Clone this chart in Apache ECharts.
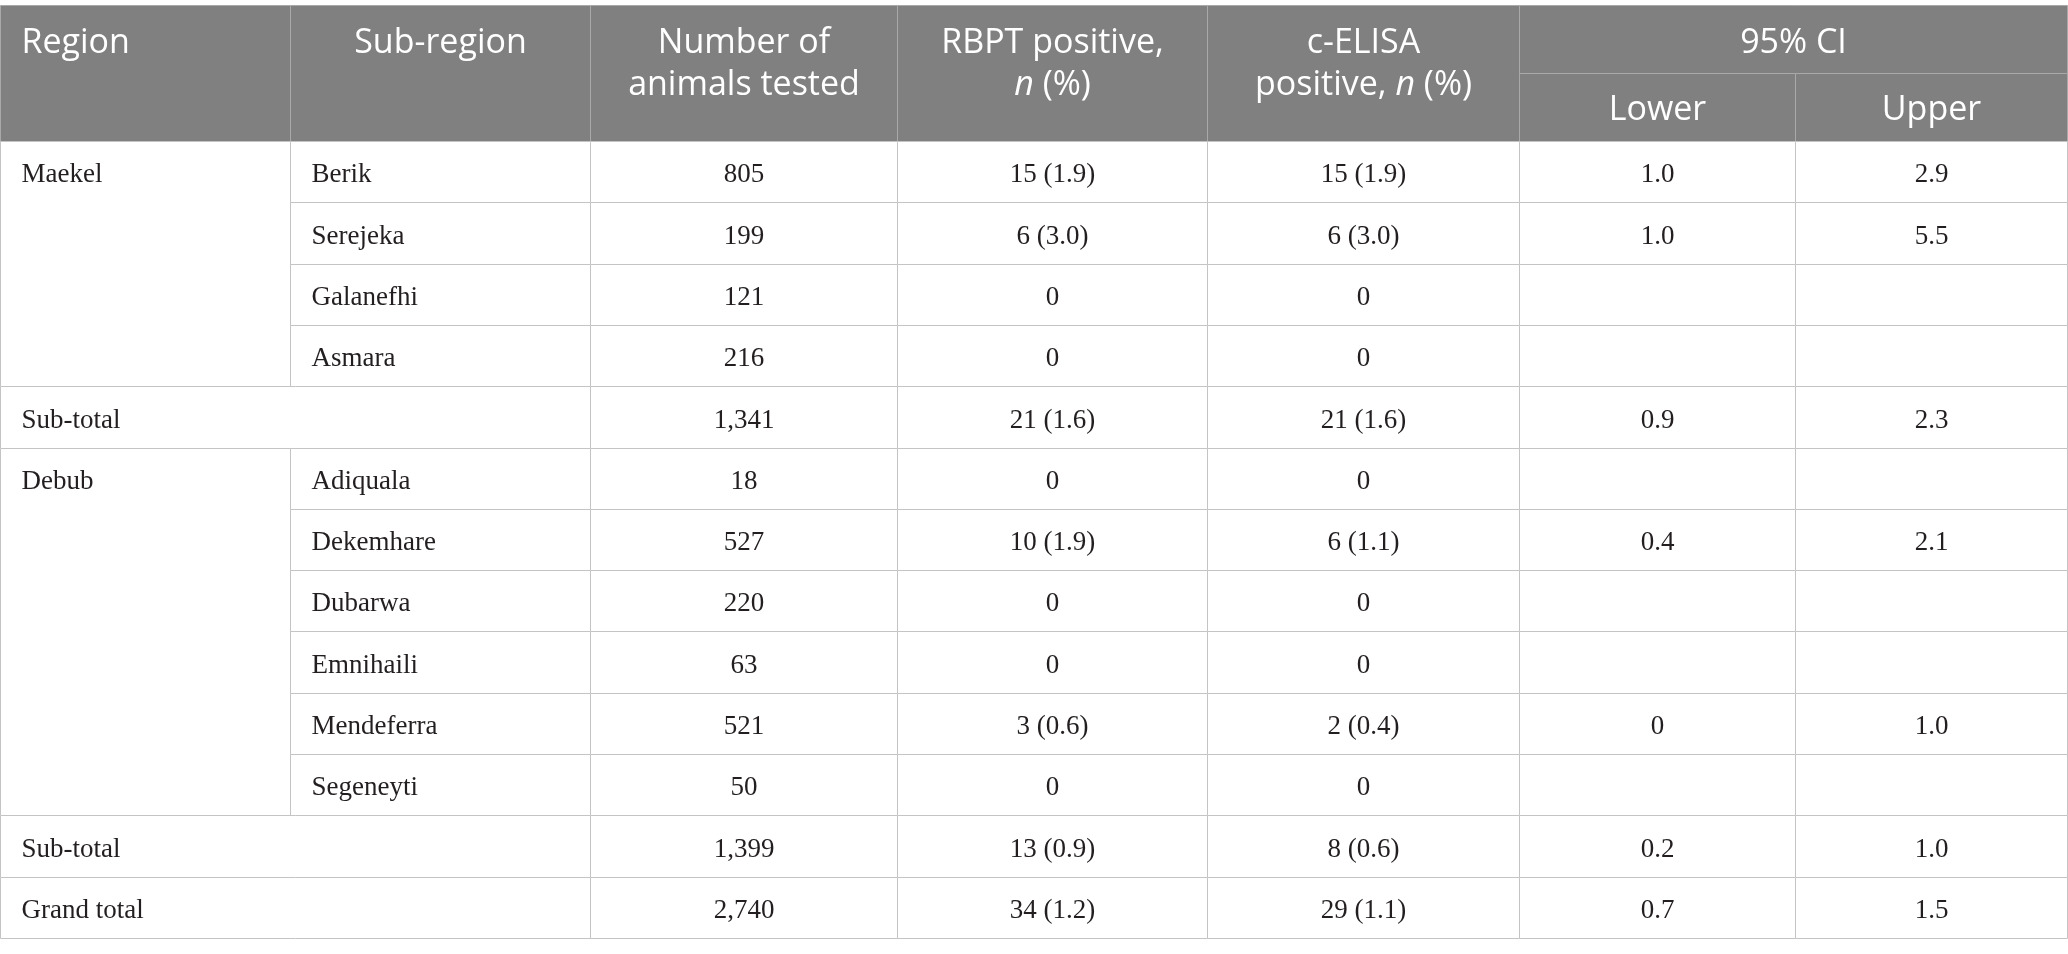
<!DOCTYPE html>
<html><head><meta charset="utf-8">
<script src="https://cdn.jsdelivr.net/npm/echarts@6/dist/echarts.min.js"></script>
<style>html,body{margin:0;padding:0;background:#fff}#c{width:2068px;height:954px}</style>
</head><body><div id="c"></div>
<script>
// ---------- data ----------
const headerLabels = ['Region', 'Sub-region', 'Number of\nanimals tested', 'RBPT positive,\n{i|n} (%)', 'c-ELISA\npositive, {i|n} (%)', '95% CI'];
const ciHeaderLabels = ['Lower', 'Upper'];
const regionNames = ['Maekel', 'Debub'];
const regionFirstRow = [0, 5];
const regionRowCount = [4, 6];
const rowLabels = ['Berik', 'Serejeka', 'Galanefhi', 'Asmara', 'Sub-total', 'Adiquala', 'Dekemhare', 'Dubarwa', 'Emnihaili', 'Mendeferra', 'Segeneyti', 'Sub-total', 'Grand total'];
const totalRows = [4, 11, 12];
const animalsTested = ['805', '199', '121', '216', '1,341', '18', '527', '220', '63', '521', '50', '1,399', '2,740'];
const rbptPositive = ['15 (1.9)', '6 (3.0)', '0', '0', '21 (1.6)', '0', '10 (1.9)', '0', '0', '3 (0.6)', '0', '13 (0.9)', '34 (1.2)'];
const elisaPositive = ['15 (1.9)', '6 (3.0)', '0', '0', '21 (1.6)', '0', '6 (1.1)', '0', '0', '2 (0.4)', '0', '8 (0.6)', '29 (1.1)'];
const ciLower = ['1.0', '1.0', '', '', '0.9', '', '0.4', '', '', '0', '', '0.2', '0.7'];
const ciUpper = ['2.9', '5.5', '', '', '2.3', '', '2.1', '', '', '1.0', '', '1.0', '1.5'];

// ---------- layout ----------
const colEdges = [0, 290, 590, 897, 1208, 1520, 1796, 2068];
const headerRows = 136 / 61.3; // header height in row units
const nRows = rowLabels.length;

const cells = [];
function addCell(c0, c1, r0, r1, text, kind, align) {
  cells.push({ v: [colEdges[c0], colEdges[c1], r0, r1], text, kind, align });
}
// header
const headSpans = [[0, 1], [1, 2], [2, 3], [3, 4], [4, 5], [5, 7]];
headerLabels.forEach((t, i) => {
  const s = headSpans[i];
  const full = i < 5;
  addCell(s[0], s[1], -headerRows, full ? 0 : -headerRows / 2, t, 'head', i === 0 ? 'left' : 'center');
});
ciHeaderLabels.forEach((t, i) => addCell(5 + i, 6 + i, -headerRows / 2, 0, t, 'sub', 'center'));
// body
regionNames.forEach((t, i) => addCell(0, 1, regionFirstRow[i], regionFirstRow[i] + regionRowCount[i], t, 'region', 'left'));
rowLabels.forEach((t, r) => {
  if (totalRows.includes(r)) addCell(0, 2, r, r + 1, t, 'body', 'left');
  else addCell(1, 2, r, r + 1, t, 'body', 'left');
  [animalsTested, rbptPositive, elisaPositive, ciLower, ciUpper].forEach((arr, k) => addCell(2 + k, 3 + k, r, r + 1, arr[r], 'body', 'center'));
});

const HEAD_FONT = '"Open Sans", sans-serif';
const BODY_FONT = '"Liberation Serif", serif';

function renderItem(params, api) {
  const c = cells[params.dataIndex];
  const p0 = api.coord([api.value(0), api.value(2)]);
  const p1 = api.coord([api.value(1), api.value(3)]);
  const x0 = Math.round(p0[0]) + 0.5, y0 = Math.round(p0[1]) + 0.5;
  const x1 = Math.round(p1[0]) + 0.5, y1 = Math.round(p1[1]) + 0.5;
  const rowPx = api.size([0, 1])[1];
  const isHead = c.kind === 'head' || c.kind === 'sub';
  const children = [{
    type: 'rect', shape: { x: x0, y: y0, width: x1 - x0, height: y1 - y0 },
    style: { fill: isHead ? '#808080' : '#ffffff', stroke: isHead ? '#a9a9a9' : '#c4c4c4', lineWidth: 1 }
  }];
  if (c.text) {
    const tx = c.align === 'left' ? x0 + 21 : (x0 + x1) / 2;
    let ty, va;
    if (c.kind === 'head') { ty = y0 + 17; va = 'top'; }
    else if (c.kind === 'sub') { ty = (y0 + y1) / 2 + 3; va = 'middle'; }
    else if (c.kind === 'region') { ty = y0 + rowPx / 2 + 3; va = 'middle'; }
    else { ty = (y0 + y1) / 2 + 3; va = 'middle'; }
    const fs = isHead ? 34 : 27;
    const ff = isHead ? HEAD_FONT : BODY_FONT;
    const fill = isHead ? '#ffffff' : '#231f20';
    children.push({
      type: 'text',
      style: {
        text: c.text, x: tx, y: ty, align: c.align, verticalAlign: va,
        fill, fontSize: fs, fontFamily: ff, lineHeight: isHead ? 42 : 30,
        rich: { i: { fontStyle: 'italic', fontSize: fs, fontFamily: ff, fill, lineHeight: 42 } }
      }
    });
  }
  return { type: 'group', children };
}

const chart = echarts.init(document.getElementById('c'));
chart.setOption({
  animation: false,
  grid: { left: 0, right: 1, top: 5, bottom: 16 },
  xAxis: { type: 'value', min: 0, max: 2068, show: false },
  yAxis: { type: 'value', min: -headerRows, max: nRows, inverse: true, show: false },
  series: [{
    type: 'custom', renderItem, clip: false, silent: true,
    encode: { x: [0, 1], y: [2, 3] },
    data: cells.map(c => c.v)
  }]
});
</script></body></html>
